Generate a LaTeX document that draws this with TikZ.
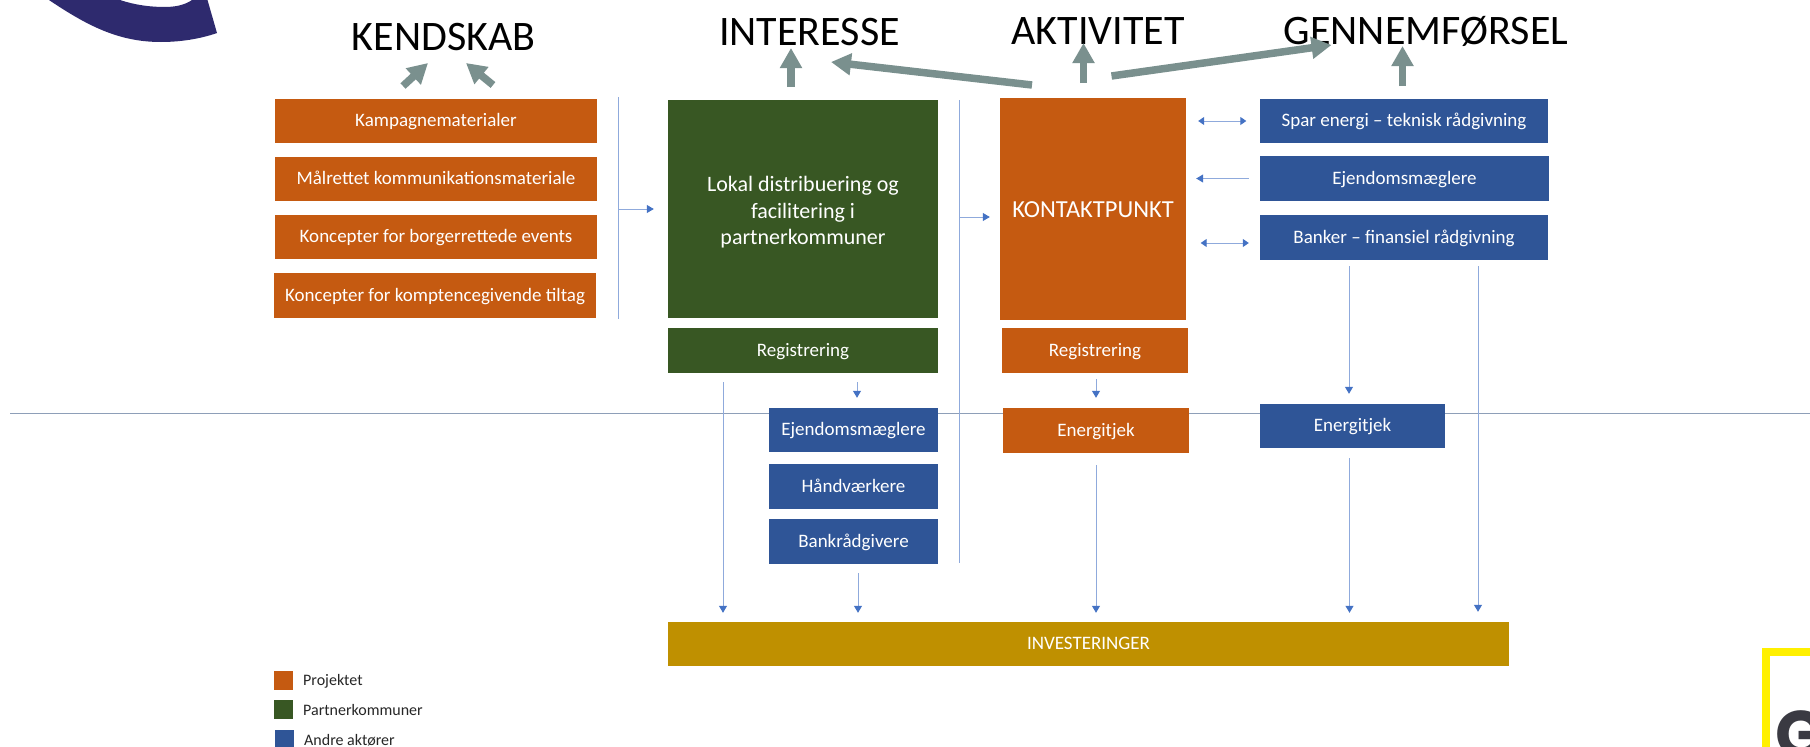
\documentclass[tikz,border=0pt]{standalone}
\usepackage{fontspec}
\setmainfont{Carlito}
\newfontfamily\logofont{Poppins}
\usetikzlibrary{arrows.meta}
\definecolor{orangeB}{HTML}{C55A11}
\definecolor{greenB}{HTML}{385723}
\definecolor{blueB}{HTML}{2F5597}
\definecolor{goldB}{HTML}{BF9000}
\definecolor{tealA}{HTML}{7A908E}
\definecolor{lineB}{HTML}{8FAADC}
\definecolor{tipB}{HTML}{4472C4}
\definecolor{rule}{HTML}{8E9FB8}
\definecolor{navy}{HTML}{2E2A6E}
\definecolor{logodark}{HTML}{3A3A42}
\definecolor{logoyellow}{HTML}{FFF000}
\tikzset{
  box/.style={inner sep=0pt,text=white,font=\fontsize{19}{26}\selectfont,text height=14pt,text depth=3pt},
  org/.style={box,fill=orangeB},
  grn/.style={box,fill=greenB},
  blu/.style={box,fill=blueB},
  gld/.style={box,fill=goldB},
  title/.style={anchor=base,inner sep=0pt,font=\fontsize{42}{44}\selectfont,text=black},
  flow/.style={draw=lineB,line width=1pt,-{Triangle[color=tipB,width=8pt,length=7pt]}},
  flowboth/.style={draw=lineB,line width=1pt,{Triangle[color=tipB,width=8pt,length=6pt]}-{Triangle[color=tipB,width=8pt,length=6pt]}},
  barline/.style={draw=lineB,line width=1pt},
  big/.style={draw=tealA,line width=7.5pt,-{Triangle[width=21pt,length=20pt]}},
  legendtext/.style={anchor=west,inner sep=0pt,font=\fontsize{16}{18}\selectfont,text=black!85},
  legendkey/.style={inner sep=0pt,minimum width=19pt,minimum height=19pt},
}
\begin{document}
\begin{tikzpicture}[x=1pt,y=-1pt]
\useasboundingbox (0,0) rectangle (1810,747);
% logos
\fill[navy] (49,0) .. controls (89,27) and (120,42) .. (161,42) .. controls (180,42) and (200,39) .. (217,33) -- (207.5,0) -- (192,0) .. controls (185,5) and (175,7) .. (165,7) .. controls (150,7) and (135,5) .. (120,0) -- cycle;
\fill[logoyellow] (1762,648) rectangle (1810,656);
\fill[logoyellow] (1762,648) rectangle (1770,747);
\begin{scope}
\clip (1770,656) rectangle (1810,747);
\node[anchor=north west,inner sep=0pt,text=logodark,font=\logofont\bfseries\fontsize{66}{66}\selectfont] (logoG) at (1775.5,710) {G};
\end{scope}
% horizontal rule
\coordinate (ruleL) at (10,413);
\coordinate (ruleR) at (1810,413);
\draw[draw=rule,line width=1pt] (ruleL) -- (ruleR);
% titles
\node[title] (tK) at (443.5,50) {KENDSKAB};
\node[title] (tI) at (809.5,45) {INTERESSE};
\node[title] (tA) at (1098,44) {AKTIVITET};
\node[title] (tG) at (1426,44) {GENNEMFØRSEL};
% left column
\node[org,minimum width=322pt,minimum height=44pt] (k1) at (436,120.5) {Kampagnematerialer};
\node[org,minimum width=322pt,minimum height=44pt] (k2) at (436,179) {Målrettet kommunikationsmateriale};
\node[org,minimum width=322pt,minimum height=44pt] (k3) at (436,237) {Koncepter for borgerrettede events};
\node[org,minimum width=322pt,minimum height=45pt] (k4) at (435,295.5) {Koncepter for komptencegivende tiltag};
% green column
\node[inner sep=0pt,text=white,fill=greenB,align=center,minimum width=270pt,minimum height=218pt,font=\fontsize{22}{26.5}\selectfont] (lokal) at (803,209) {\rule{0pt}{22pt}Lokal distribuering og\\facilitering i\\partnerkommuner};
\node[grn,minimum width=270pt,minimum height=45pt] (regG) at (803,350.5) {Registrering};
\node[blu,minimum width=169pt,minimum height=44pt] (ejd) at (853.5,430) {Ejendomsmæglere};
\node[blu,minimum width=169pt,minimum height=45pt] (hand) at (853.5,486.5) {Håndværkere};
\node[blu,minimum width=169pt,minimum height=45pt] (bank) at (853.5,541.5) {Bankrådgivere};
% contact column
\node[org,minimum width=186pt,minimum height=222pt,font=\fontsize{24.5}{28}\selectfont,text height=20pt,text depth=4pt] (kontakt) at (1093,209) {KONTAKTPUNKT};
\node[org,minimum width=185.5pt,minimum height=45pt] (regO) at (1095,350.5) {Registrering};
\node[org,minimum width=186pt,minimum height=45pt] (enO) at (1096,430.5) {Energitjek};
% right column
\node[blu,minimum width=288pt,minimum height=44pt] (spar) at (1404,121) {Spar energi – teknisk rådgivning};
\node[blu,minimum width=289pt,minimum height=45pt] (ejd2) at (1404.5,178.5) {Ejendomsmæglere};
\node[blu,minimum width=288pt,minimum height=45pt] (banker) at (1404,237.5) {Banker – finansiel rådgivning};
\node[blu,minimum width=185pt,minimum height=44pt] (enB) at (1352.5,426) {Energitjek};
% investments
\node[gld,minimum width=841pt,minimum height=44pt] (inv) at (1088.5,644) {INVESTERINGER};
% bars
\coordinate (b1t) at (618,97);
\coordinate (b1m) at (618,209);
\coordinate (b1b) at (618,319);
\coordinate (b2t) at (959,100);
\coordinate (b2m) at (959,217);
\coordinate (b2b) at (959,563);
\draw[barline] (b1t) -- (b1b);
\draw[barline] (b2t) -- (b2b);
\draw[flow,shorten >=14pt] (b1m) -- (lokal.west |- b1m);
\draw[flow,shorten >=10pt] (b2m) -- (kontakt.west |- b2m);
% flows
\draw[flow,shorten <=9pt,shorten >=9pt] ([xshift=-80pt]regG.south) -- ([xshift=-365.5pt]inv.north);
\draw[flow,shorten <=9pt,shorten >=10pt] ([xshift=54pt]regG.south) -- ([xshift=3.5pt]ejd.north);
\draw[flow,shorten <=9pt,shorten >=9pt] ([xshift=4.5pt]bank.south) -- ([xshift=-230.5pt]inv.north);
\draw[flow,shorten <=6pt,shorten >=10pt] ([xshift=1pt]regO.south) -- (enO.north);
\draw[flow,shorten <=12pt,shorten >=9pt] (enO.south) -- ([xshift=7.5pt]inv.north);
\draw[flow,shorten <=6pt,shorten >=10pt] ([xshift=-55pt]banker.south) -- ([xshift=-3.5pt]enB.north);
\draw[flow,shorten <=10pt,shorten >=9pt] ([xshift=-3pt]enB.south) -- ([xshift=261pt]inv.north);
\draw[flow,shorten <=6pt,shorten >=10pt] ([xshift=74pt]banker.south) -- ([xshift=389.5pt]inv.north);
\draw[flowboth,shorten <=12pt,shorten >=13.5pt] (kontakt.east |- spar.west) -- (spar.west);
\draw[flow,shorten <=11pt,shorten >=10pt] (ejd2.west) -- (kontakt.east |- ejd2.west);
\draw[flowboth,shorten <=14.5pt,shorten >=11pt] ([yshift=-5.5pt]kontakt.east |- banker.west) -- ([yshift=-5.5pt]banker.west);
% big arrows
\coordinate (a1s) at (403,86);  \coordinate (a1e) at (428,63);
\coordinate (a2s) at (493,85);  \coordinate (a2e) at (466,63);
\coordinate (a3s) at (791,87);  \coordinate (a3e) at (791,48);
\coordinate (a4s) at (1083.5,83);  \coordinate (a4e) at (1083.5,43);
\coordinate (a5s) at (1402.5,86);  \coordinate (a5e) at (1402.5,46);
\coordinate (a6s) at (1032,85);  \coordinate (a6e) at (831,62);
\coordinate (a7s) at (1111.5,76);  \coordinate (a7e) at (1331.5,45);
\draw[big] (a1s) -- (a1e);
\draw[big] (a2s) -- (a2e);
\draw[big] (a3s) -- (a3e);
\draw[big] (a4s) -- (a4e);
\draw[big] (a5s) -- (a5e);
\draw[big] (a6s) -- (a6e);
\draw[big] (a7s) -- (a7e);
% legend
\node[legendkey,fill=orangeB] (lk1) at (283.5,680) {};
\node[legendkey,fill=greenB] (lk2) at (283.5,709.5) {};
\node[legendkey,fill=blueB] (lk3) at (284.5,739.5) {};
\node[legendtext] (lt1) at (303,681) {Projektet};
\node[legendtext] (lt2) at (303,710) {Partnerkommuner};
\node[legendtext] (lt3) at (304,740) {Andre aktører};
\end{tikzpicture}
\end{document}
